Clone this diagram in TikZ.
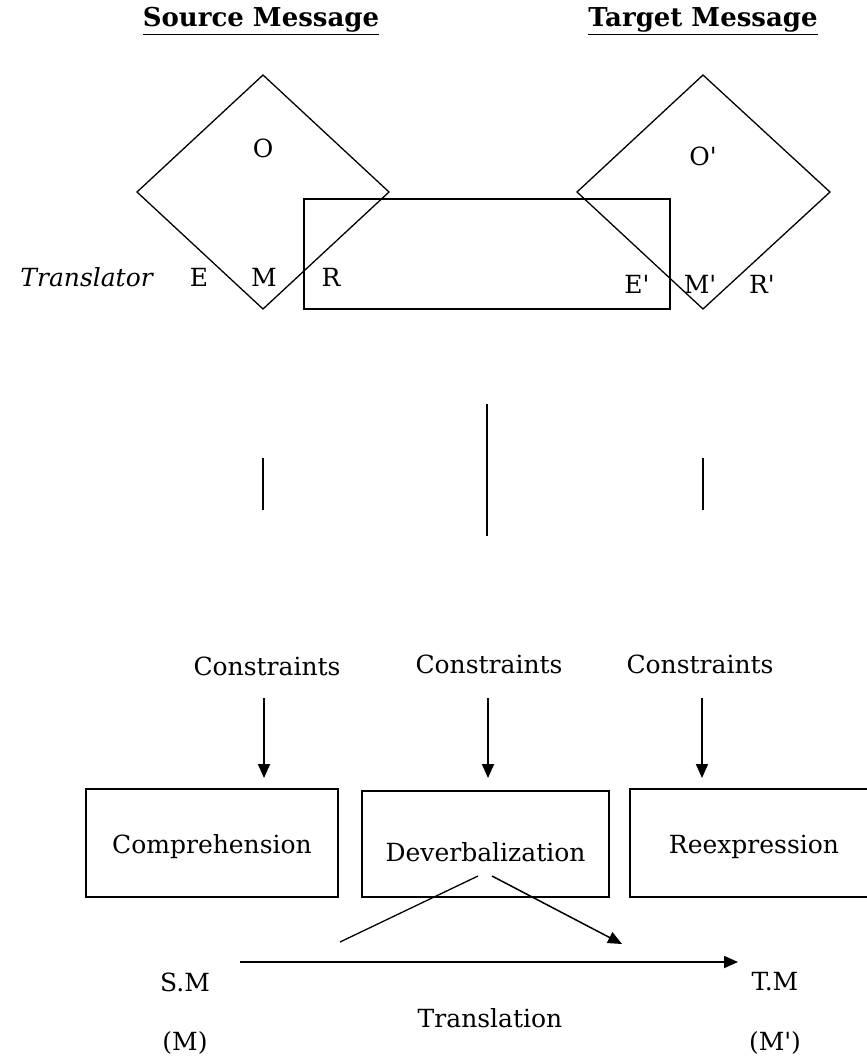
\documentclass[tikz,border=0pt]{standalone}
\usepackage{fontspec}
\setmainfont{DejaVu Serif}[Ligatures=TeXOff]
\usetikzlibrary{arrows.meta}
\begin{document}
\begin{tikzpicture}[x=1pt,y=-1pt,
  txt/.style={inner sep=0pt,font=\fontsize{25}{30}\selectfont},
  ttl/.style={inner sep=0pt,font=\fontsize{26}{30}\selectfont\bfseries},
  shp/.style={draw=black,line width=1.3pt},
  procbox/.style={draw=black,line width=1.6pt},
  vline/.style={draw=black,line width=1.6pt},
  arr/.style={draw=black,line width=1.8pt,-{Triangle[width=12pt,length=14pt]}}]
\useasboundingbox (0,0) rectangle (867,1061);
% titles
\node[ttl] (src) at (261,21) {\underline{Source Message}};
\node[ttl] (tgt) at (703,21) {\underline{Target Message}};
% left diamond
\coordinate (lt) at (263,75);
\coordinate (ll) at (137,192);
\coordinate (lr) at (389,192);
\coordinate (lb) at (263,309);
\draw[shp] (lt) -- (lr) -- (lb) -- (ll) -- cycle;
% right diamond
\coordinate (rt) at (703,75);
\coordinate (rl) at (577,192);
\coordinate (rr) at (830,192);
\coordinate (rb) at (703,309);
\draw[shp] (rt) -- (rr) -- (rb) -- (rl) -- cycle;
% translator rectangle
\coordinate (ta) at (304,199);
\coordinate (tb) at (670,309);
\draw[shp] (ta) rectangle (tb);
% labels
\node[txt] (o) at (263,148) {O};
\node[txt] (o2) at (703,156) {O'};
\node[txt,anchor=east] (tr) at (153,277) {\itshape Translator};
\node[txt] (e) at (199,277) {E};
\node[txt] (m) at (264,277) {M};
\node[txt] (r) at (331,277) {R};
\node[txt] (e2) at (637,284) {E'};
\node[txt] (m2) at (700,284) {M'};
\node[txt] (r2) at (762,284) {R'};
% vertical bars
\coordinate (v1a) at (263,458); \coordinate (v1b) at (263,510);
\coordinate (v2a) at (487,404); \coordinate (v2b) at (487,536);
\coordinate (v3a) at (703,458); \coordinate (v3b) at (703,510);
\draw[vline] (v1a) -- (v1b);
\draw[vline] (v2a) -- (v2b);
\draw[vline] (v3a) -- (v3b);
% constraints
\node[txt] (c1) at (267,666) {Constraints};
\node[txt] (c2) at (489,664) {Constraints};
\node[txt] (c3) at (700,664) {Constraints};
\coordinate (a1) at (264,698); \coordinate (a1e) at (264,778);
\coordinate (a2) at (488,698); \coordinate (a2e) at (488,778);
\coordinate (a3) at (702,698); \coordinate (a3e) at (702,778);
\draw[arr] (a1) -- (a1e);
\draw[arr] (a2) -- (a2e);
\draw[arr] (a3) -- (a3e);
% process boxes
\node[procbox,minimum width=252pt,minimum height=108pt,inner sep=0pt] (comp) at (212,843) {};
\node[procbox,minimum width=247pt,minimum height=106pt,inner sep=0pt] (deve) at (485.5,844) {};
\node[procbox,minimum width=248pt,minimum height=108pt,inner sep=0pt] (reex) at (754,843) {};
\node[txt] (comptx) at (212,847) {Comprehension};
\node[txt] (devetx) at (485.5,852) {Deverbalization};
\node[txt] (reextx) at (754,847) {Reexpression};
% deverbalization lines
\coordinate (d1) at (478,876);
\coordinate (d1e) at (340,942);
\coordinate (d2) at (492,876);
\coordinate (d2e) at (622,944);
\draw[shp] (d1) -- (d1e);
\draw[arr,line width=1.5pt] (d2) -- (d2e);
% translation arrow
\node[txt] (sm) at (185,982) {S.M};
\node[txt] (tm) at (775,982) {T.M};
\node[txt] (trn) at (490,1018) {Translation};
\node[txt] (mm) at (185,1043) {(M)};
\node[txt] (mm2) at (775,1043) {(M')};
\coordinate (t1) at (240,962);
\coordinate (t2) at (738,962);
\draw[arr] (t1) -- (t2);
\end{tikzpicture}
\end{document}
